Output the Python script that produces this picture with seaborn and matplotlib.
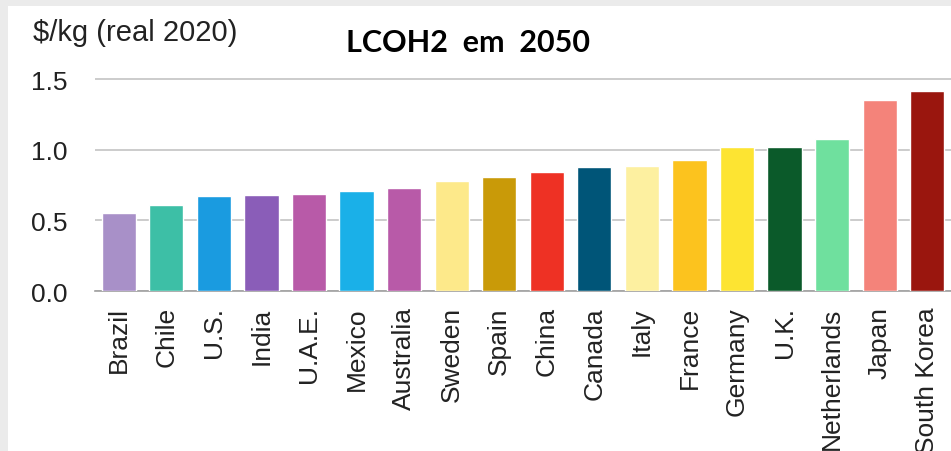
import matplotlib
matplotlib.use("Agg")
import matplotlib.pyplot as plt
import matplotlib.patches as mpatches
import pandas as pd
import seaborn as sns

countries = ["Brazil", "Chile", "U.S.", "India", "U.A.E.", "Mexico", "Australia",
             "Sweden", "Spain", "China", "Canada", "Italy", "France", "Germany",
             "U.K.", "Netherlands", "Japan", "South Korea"]
lcoh = [0.555, 0.61, 0.67, 0.68, 0.69, 0.71, 0.73, 0.78, 0.81, 0.84, 0.88,
        0.885, 0.93, 1.02, 1.02, 1.075, 1.35, 1.415]
colors = ["#a890c8", "#3dbfa6", "#1a9be0", "#8a5db8", "#b85aa8", "#1ab0e8",
          "#b85aa8", "#fde98a", "#c99a08", "#ee3124", "#005578", "#fdf0a0",
          "#fcc31e", "#fde432", "#0b5a2a", "#6fe09e", "#f4837a", "#9a160e"]
y_ticks = [0.0, 0.5, 1.0, 1.5]

df = pd.DataFrame({"country": countries, "lcoh": lcoh})

sns.set_style("white")
plt.rcParams["font.family"] = ["Liberation Sans", "DejaVu Sans"]

fig = plt.figure(figsize=(9.51, 4.52), dpi=100, facecolor="#ebebeb")
# white panel inside the grey frame
fig.patches.append(mpatches.Rectangle((8 / 951, 0), 1, 1 - 7 / 452,
                                      transform=fig.transFigure,
                                      facecolor="white", edgecolor="none",
                                      zorder=-5))

ax = fig.add_axes([95 / 951, 1 - 292 / 452, 1 - 95 / 951, (292 - 66) / 452])
ax.set_facecolor("none")

sns.barplot(data=df, x="country", y="lcoh", hue="country",
            palette=dict(zip(countries, colors)), width=0.72, saturation=1,
            legend=False, ax=ax, zorder=3)

ax.set_ylim(0, 1.6)
ax.set_xlim(-0.5, len(countries) - 0.5)
ax.set_yticks(y_ticks)
ax.set_yticklabels([f"{v:.1f}" for v in y_ticks], fontsize=19, color="#222222")
ax.yaxis.grid(True, color="#c4c4c4", linewidth=1.2, zorder=0)
ax.set_axisbelow(True)
ax.tick_params(axis="y", length=0, pad=20)

ax.set_xticks(range(len(countries)))
ax.set_xticklabels(countries, rotation=90, fontsize=19, color="#222222")
ax.set_xticks([i + 0.5 for i in range(-1, len(countries))], minor=True)
ax.tick_params(axis="x", which="major", length=0, pad=11)
ax.tick_params(axis="x", which="minor", length=6, width=1, color="#a0a0a0",
               direction="out")

for side in ["top", "right", "left"]:
    ax.spines[side].set_visible(False)
ax.spines["bottom"].set_color("#a0a0a0")
ax.spines["bottom"].set_linewidth(1.2)

ax.set_xlabel("")
ax.set_ylabel("")

fig.text(33 / 951, 1 - 33 / 452, "$/kg (real 2020)", fontsize=21,
         color="#222222", va="center", ha="left")
fig.text(468 / 951, 1 - 43 / 452, "LCOH2  em  2050", fontsize=22,
         fontweight="bold", family=["Lato", "DejaVu Sans"], color="black",
         va="center", ha="center")

fig.savefig("out.png", dpi=100, facecolor=fig.get_facecolor())
